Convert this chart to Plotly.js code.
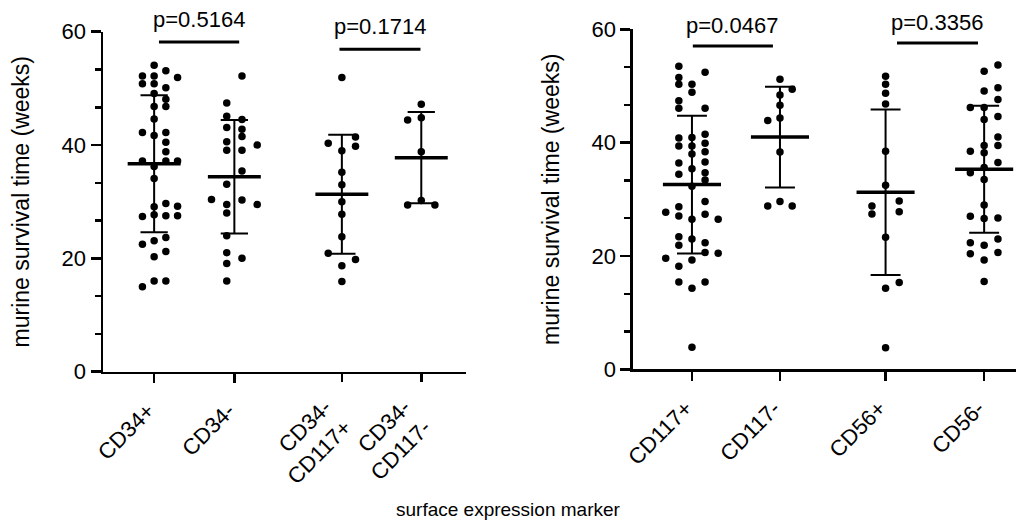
<!DOCTYPE html>
<html>
<head>
<meta charset="utf-8">
<script src="https://cdn.plot.ly/plotly-3.0.1.min.js"></script>
<style>html,body{margin:0;padding:0;background:#fff;}#chart{width:1016px;height:525px;}</style>
</head>
<body>
<div id="chart"></div>
<script>
// ---------- categories / tick labels ----------
const leftLabels  = ['CD34+', 'CD34-', 'CD34-<br>CD117+', 'CD34-<br>CD117-'];
const rightLabels = ['CD117+', 'CD117-', 'CD56+', 'CD56-'];
const leftPos  = [0, 1, 2.34, 3.33];
const rightPos = [0, 1, 2.2, 3.32];

// ---------- survival values (weeks) and dot column index ----------
const cd34pos     = [54.1,52.2,52.2,53.1,51.9,50.8,50.8,50.1,49.1,48.1,46.8,46.8,44.6,42.2,41.7,42.2,40.5,38.8,37.2,37.2,37.2,36.2,34.1,29.1,29.7,29.2,27.4,27.7,27.5,27.5,22.5,23.1,23.7,20.3,21.2,15.0,16.0,16.0];
const cd34posCol  = [0,-1,0,1,2,-1,0,1,0,1,0,1,0,-1,0,1,1,1,-1,1,2,0,0,0,1,2,-1,0,1,2,-1,0,1,0,1,-1,0,1];
const cd34neg     = [52.2,47.4,45.1,44.5,43.1,42.8,41.5,40.6,40.0,39.1,39.1,35.4,33.1,30.4,30.3,29.5,29.5,28.0,24.0,21.0,20.0,19.1,16.0];
const cd34negCol  = [0.5,-0.5,-0.5,0.5,-0.5,0.5,0.5,-0.5,1.5,-0.5,0.5,0.5,-0.5,-1.5,0.5,1.5,-0.5,-0.5,-0.5,-0.5,0.5,-0.5,-0.5];
const cd34n117p    = [51.9,40.3,41.4,39.8,39.0,35.2,33.0,30.0,27.8,23.8,20.9,19.8,18.7,15.9];
const cd34n117pCol = [0,-1,1,1,0,0,0,0,0,0,-1,1,0,0];
const cd34n117n    = [47.2,44.4,44.8,38.8,30.2,29.4,29.4];
const cd34n117nCol = [0,-1,0,0,0,-1,1];

const cd117pos    = [53.5,51.5,50.3,50.3,52.4,48.9,47.4,46.05,46.05,40.8,40.9,41.5,39.4,39.4,39.9,38.0,38.4,36.4,36.6,35.4,34.4,34.7,33.4,32.3,29.6,28.7,27.7,27.05,27.35,26.5,26.5,23.4,23.0,21.9,22.35,20.6,20.5,19.6,19.3,18.2,15.4,15.4,14.3,3.9];
const cd117posCol = [-1,-1,-1,0,1,0,-1,-1,1,-1,0,1,-1,0,1,0,1,-1,1,0,-1,1,1,0,1,-1,-2,-1,1,0,2,-1,0,-1,1,1,2,-2,0,-1,-1,1,0,0];
const cd117neg    = [51.2,49.4,48.4,46.6,44.35,43.9,38.35,29.6,28.8,28.8];
const cd117negCol = [0,1,0,0,0,-1,0,0,-1,1];
const cd56pos     = [51.7,50.3,48.7,46.8,38.5,32.5,28.8,27.4,29.7,27.8,23.3,14.3,15.3,3.8];
const cd56posCol  = [0,0,0,0,0,0,-1,-1,1,1,0,0,1,0];
const cd56neg     = [53.7,52.6,49.1,49.7,47.6,46.2,46.2,44.1,44.6,41.0,39.5,39.5,38.5,38.2,36.5,34.7,35.6,33.5,29.0,27.0,26.6,26.7,22.35,21.9,23.0,20.4,19.3,20.6,15.5];
const cd56negCol  = [1,0,0,1,1,-1,0,0,1,1,1,0,-1,0,1,-1,0,0,0,-1,0,1,-1,0,1,-1,0,1,0];

// ---------- summary (mean ± SD) ----------
const leftMean  = [36.7, 34.4, 31.3, 37.77];
const leftSD    = [12.1, 10.0, 10.5, 8.05];
const rightMean = [32.6, 40.98, 31.26, 35.3];
const rightSD   = [12.15, 8.9, 14.6, 11.2];

// ---------- p-values ----------
const leftP  = ['p=0.5164', 'p=0.1714'];
const rightP = ['p=0.0467', 'p=0.3356'];
const leftBarY  = [58.2, 56.9];
const rightBarY = [57.05, 57.6];

// ---------- styling ----------
const FONT = 'Liberation Sans, Arial, Helvetica, sans-serif';
const leftSpacing  = [0.146, 0.19, 0.17, 0.17];
const rightSpacing = [0.149, 0.139, 0.155, 0.157];
const MEAN_HALF = 0.33, CAP_HALF = 0.17;

function buildPanel(groups, cols, pos, spacing, means, sds, xa, ya) {
  const xs = [], ys = [];
  groups.forEach((vals, g) => {
    vals.forEach((v, i) => { xs.push(pos[g] + cols[g][i] * spacing[g]); ys.push(v); });
  });
  const mx = [], my = [], wx = [], wy = [];
  means.forEach((m, g) => {
    const p = pos[g], s = sds[g];
    mx.push(p - MEAN_HALF, p + MEAN_HALF, null); my.push(m, m, null);
    wx.push(p, p, null); wy.push(m - s, m + s, null);
    wx.push(p - CAP_HALF, p + CAP_HALF, null); wy.push(m + s, m + s, null);
    wx.push(p - CAP_HALF, p + CAP_HALF, null); wy.push(m - s, m - s, null);
  });
  return [
    {type:'scatter', mode:'lines', x:wx, y:wy, xaxis:xa, yaxis:ya, line:{color:'#000', width:2}, hoverinfo:'skip', showlegend:false, cliponaxis:false},
    {type:'scatter', mode:'lines', x:mx, y:my, xaxis:xa, yaxis:ya, line:{color:'#000', width:3.5}, hoverinfo:'skip', showlegend:false, cliponaxis:false},
    {type:'scatter', mode:'markers', x:xs, y:ys, xaxis:xa, yaxis:ya, marker:{color:'#000', size:7.5}, showlegend:false, cliponaxis:false}
  ];
}

function bracket(x0, x1, y, xa, ya) {
  return {type:'scatter', mode:'lines', x:[x0, x1], y:[y, y], xaxis:xa, yaxis:ya, line:{color:'#000', width:3}, hoverinfo:'skip', showlegend:false, cliponaxis:false};
}

const traces = [].concat(
  buildPanel([cd34pos, cd34neg, cd34n117p, cd34n117n], [cd34posCol, cd34negCol, cd34n117pCol, cd34n117nCol], leftPos, leftSpacing, leftMean, leftSD, 'x', 'y'),
  buildPanel([cd117pos, cd117neg, cd56pos, cd56neg], [cd117posCol, cd117negCol, cd56posCol, cd56negCol], rightPos, rightSpacing, rightMean, rightSD, 'x2', 'y2'),
  [bracket(leftPos[0] + 0.06, leftPos[1] + 0.06, leftBarY[0], 'x', 'y'),
   bracket(leftPos[2] - 0.03, leftPos[3] - 0.01, leftBarY[1], 'x3', 'y'),
   bracket(rightPos[0] + 0.01, rightPos[1] - 0.08, rightBarY[0], 'x2', 'y2'),
   bracket(rightPos[2] + 0.13, rightPos[3] - 0.07, rightBarY[1], 'x2', 'y2')]
);

const yCommon = {
  range:[0, 60], tickvals:[0, 20, 40, 60], ticks:'outside', ticklen:10, tickwidth:2.5,
  showline:true, linewidth:2.5, linecolor:'#000', tickcolor:'#000',
  showgrid:false, zeroline:false, fixedrange:true,
  tickfont:{family:FONT, size:22, color:'#000'},
  minor:{dtick:20/3, tick0:0, ticks:'outside', ticklen:6, tickwidth:2.5, tickcolor:'#000', showgrid:false},
  title:{text:'murine survival time (weeks)', font:{family:FONT, size:23, color:'#000'}, standoff:26}
};
const xCommon = {
  ticks:'outside', ticklen:9, tickwidth:2.5, tickcolor:'#000',
  showline:true, linewidth:2.5, linecolor:'#000',
  showgrid:false, zeroline:false, fixedrange:true, tickangle:-45,
  tickfont:{family:FONT, size:22, color:'#000'}, ticklabelstandoff:6, ticklabelshift:-6
};
const LEFT_RANGE = [-0.6375, 3.8875];

const layout = {
  width:1016, height:525,
  margin:{l:103, r:0, t:28, b:152},
  paper_bgcolor:'#fff', plot_bgcolor:'#fff',
  showlegend:false,
  font:{family:FONT, color:'#000'},
  xaxis: Object.assign({}, xCommon, {domain:[0, 0.39759], range:LEFT_RANGE, tickvals:leftPos.slice(0, 2), ticktext:leftLabels.slice(0, 2), anchor:'y'}),
  xaxis3: Object.assign({}, xCommon, {overlaying:'x', anchor:'y', side:'bottom', range:LEFT_RANGE, showline:false,
                                      tickvals:leftPos.slice(2), ticktext:leftLabels.slice(2), ticklabelshift:-17, ticklabelstandoff:4}),
  yaxis: Object.assign({}, yCommon, {domain:[0.00377, 0.98928], anchor:'x'}),
  xaxis2: Object.assign({}, xCommon, {domain:[0.5805, 1], range:[-0.67, 3.682], tickvals:rightPos, ticktext:rightLabels, anchor:'y2'}),
  yaxis2: Object.assign({}, yCommon, {domain:[0.01072, 0.99623], anchor:'x2'}),
  annotations: [
    {xref:'x', yref:'y', x:(leftPos[0]+leftPos[1])/2 + 0.06, y:leftBarY[0], text:leftP[0], showarrow:false, yanchor:'bottom', yshift:8, font:{family:FONT, size:22, color:'#000'}},
    {xref:'x', yref:'y', x:(leftPos[2]+leftPos[3])/2 - 0.02, y:leftBarY[1], text:leftP[1], showarrow:false, yanchor:'bottom', yshift:8, font:{family:FONT, size:22, color:'#000'}},
    {xref:'x2', yref:'y2', x:(rightPos[0]+rightPos[1])/2 - 0.04, y:rightBarY[0], text:rightP[0], showarrow:false, yanchor:'bottom', yshift:6, font:{family:FONT, size:22, color:'#000'}},
    {xref:'x2', yref:'y2', x:(rightPos[2]+rightPos[3])/2 + 0.03, y:rightBarY[1], text:rightP[1], showarrow:false, yanchor:'bottom', yshift:6, font:{family:FONT, size:22, color:'#000'}},
    {xref:'paper', yref:'paper', x:0.4436, y:-0.397, text:'surface expression marker', showarrow:false, xanchor:'center', yanchor:'middle', font:{family:FONT, size:19, color:'#000'}}
  ]
};

Plotly.newPlot('chart', traces, layout, {staticPlot:true, displayModeBar:false});
</script>
</body>
</html>
